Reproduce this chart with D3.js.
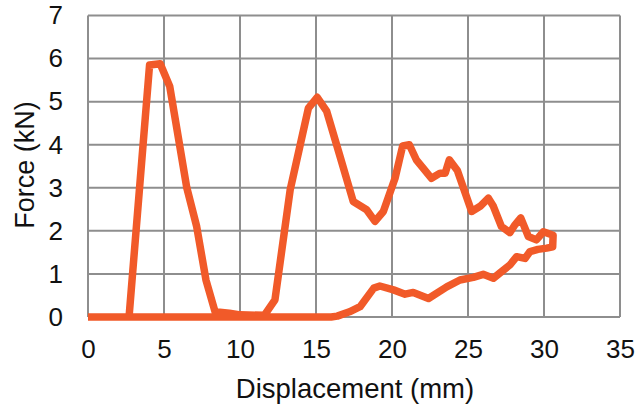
<!DOCTYPE html>
<html><head><meta charset="utf-8">
<script src="https://cdn.jsdelivr.net/npm/d3@7"></script>
<style>body{margin:0;background:#fff}svg{display:block}</style>
</head><body>
<script>
// Loading path (displacement mm, force kN)
const loadDisp  = [0,2.7,4.05,4.75,5.38,6.5,7.15,7.76,8.36,9.3,10.0,11.6,12.3,13.3,14.5,15.08,15.7,16.58,17.45,18.33,18.88,19.43,20.2,20.7,21.14,21.6,22.6,23.16,23.5,23.77,24.3,25.24,25.8,26.34,26.67,27.2,27.76,28.09,28.47,28.97,29.5,29.96,30.6,30.57];
const loadForce = [0,0,5.85,5.88,5.35,3.0,2.1,0.86,0.12,0.09,0.05,0.04,0.4,2.95,4.85,5.1,4.78,3.73,2.68,2.49,2.22,2.45,3.22,3.97,4.0,3.65,3.22,3.34,3.34,3.65,3.4,2.45,2.57,2.76,2.57,2.1,1.96,2.14,2.3,1.87,1.79,1.98,1.9,1.63];
// Return path
const backDisp  = [30.18,29.6,29.08,28.75,28.2,27.76,27.2,26.67,26.0,25.35,24.47,23.6,22.4,21.4,20.86,20.1,19.2,18.8,17.9,17.2,16.4,16.0,0];
const backForce = [1.6,1.57,1.52,1.36,1.4,1.21,1.05,0.9,0.99,0.92,0.86,0.7,0.43,0.57,0.53,0.63,0.72,0.67,0.24,0.12,0.02,0,0];
const xTicks = [0,5,10,15,20,25,30,35];
const yTicks = [0,1,2,3,4,5,6,7];
const xTitle = "Displacement (mm)";
const yTitle = "Force (kN)";

const W = 643, H = 410;
const svg = d3.select("body").append("svg").attr("width", W).attr("height", H);
const x = d3.scaleLinear().domain([0,35]).range([88,620]);
const y = d3.scaleLinear().domain([0,7]).range([317,15.5]);
const tickFont = "'Liberation Sans Narrow', 'Liberation Sans', Arial, sans-serif";
const titleFont = "'Liberation Sans', Arial, sans-serif";
const gridColor = "#8e8e8e";

const g = svg.append("g");
g.selectAll("line.v").data(xTicks).join("line")
  .attr("x1", d=>x(d)).attr("x2", d=>x(d)).attr("y1", y(0)).attr("y2", y(7))
  .attr("stroke", gridColor).attr("stroke-width", 2);
g.selectAll("line.h").data(yTicks).join("line")
  .attr("y1", d=>y(d)).attr("y2", d=>y(d)).attr("x1", x(0)).attr("x2", x(35))
  .attr("stroke", gridColor).attr("stroke-width", 2);

const xAxis = svg.append("g").attr("transform", `translate(0,${y(0)})`)
  .call(d3.axisBottom(x).tickValues(xTicks).tickFormat(d3.format("d")).tickSize(0).tickPadding(23));
const yAxis = svg.append("g").attr("transform", `translate(${x(0)},0)`)
  .call(d3.axisLeft(y).tickValues(yTicks).tickFormat(d3.format("d")).tickSize(0).tickPadding(25));
[xAxis, yAxis].forEach(a => {
  a.select(".domain").remove();
  a.selectAll("text").attr("font-family", tickFont).attr("font-size", 26).attr("fill", "#111");
});

const pts = loadDisp.map((d,i)=>[d, loadForce[i]])
  .concat(backDisp.map((d,i)=>[d, backForce[i]]));
const line = d3.line().x(d=>x(d[0])).y(d=>y(d[1])).curve(d3.curveLinear);
svg.append("path").attr("d", line(pts)).attr("fill","none")
  .attr("stroke", "#f15a29").attr("stroke-width", 7.5)
  .attr("stroke-linejoin","round").attr("stroke-linecap","butt");

svg.append("text").attr("x", 355).attr("y", 398).attr("text-anchor","middle")
  .attr("font-family", titleFont).attr("font-size", 27.5).attr("fill","#111").text(xTitle);
svg.append("text").attr("transform", "translate(34,165) rotate(-90)").attr("text-anchor","middle")
  .attr("font-family", titleFont).attr("font-size", 27).attr("fill","#111").text(yTitle);
</script>
</body></html>
